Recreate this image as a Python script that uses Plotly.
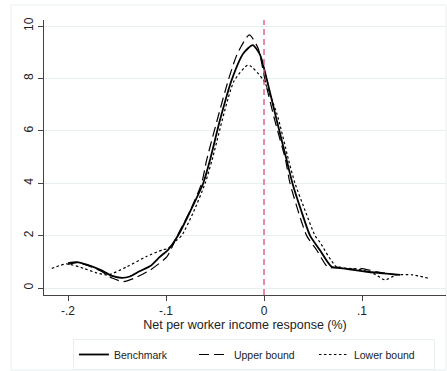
import plotly.graph_objects as go

# Benchmark
bench_x = [-0.200, -0.191, -0.180, -0.167, -0.155, -0.145, -0.137, -0.127, -0.116, -0.106,
           -0.098, -0.087, -0.075, -0.062, -0.055, -0.045, -0.033, -0.021, -0.0115, -0.004,
           0.003, 0.012, 0.023, 0.029, 0.038, 0.047, 0.057, 0.069, 0.081, 0.093, 0.105,
           0.122, 0.139]
bench_y = [0.95, 0.99, 0.88, 0.69, 0.46, 0.39, 0.44, 0.64, 0.84, 1.20,
           1.45, 2.05, 2.95, 4.00, 4.90, 6.40, 7.94, 8.96, 9.27, 8.90,
           7.94, 6.55, 4.90, 4.00, 2.95, 2.00, 1.45, 0.81, 0.75, 0.68, 0.62,
           0.56, 0.50]

# Upper bound
upper_x = [-0.200, -0.191, -0.180, -0.167, -0.155, -0.1436, -0.130, -0.116, -0.099, -0.089,
           -0.076, -0.0636, -0.0585, -0.0364, -0.027, -0.015, -0.006, 0.001, 0.011, 0.022,
           0.0265, 0.0435, 0.0537, 0.0656, 0.0776, 0.088, 0.098, 0.115, 0.135]
upper_y = [0.90, 0.97, 0.86, 0.66, 0.38, 0.24, 0.41, 0.69, 1.20, 1.96,
           2.90, 4.00, 4.89, 7.94, 8.96, 9.66, 9.15, 7.94, 6.40, 4.89,
           4.00, 2.00, 1.45, 0.78, 0.80, 0.72, 0.75, 0.62, 0.50]

# Lower bound
lower_x = [-0.2166, -0.2015, -0.184, -0.171, -0.159, -0.140, -0.120, -0.104, -0.098, -0.089,
           -0.084, -0.072, -0.060, -0.053, -0.0306, -0.016, -0.0007, 0.013, 0.025, 0.0316,
           0.042, 0.052, 0.057, 0.074, 0.0946, 0.1115, 0.1235, 0.135, 0.152, 0.168]
lower_y = [0.75, 0.92, 0.75, 0.58, 0.50, 0.81, 1.20, 1.45, 1.51, 1.83,
           2.00, 2.90, 4.00, 4.89, 7.90, 8.51, 7.94, 6.67, 4.89, 4.00,
           2.95, 2.00, 1.75, 0.81, 0.73, 0.56, 0.31, 0.50, 0.50, 0.37]

x_ticks = [-0.2, -0.1, 0, 0.1]
x_tick_labels = ["-.2", "-.1", "0", ".1"]
y_ticks = [0, 2, 4, 6, 8, 10]
y_tick_labels = ["0", "2", "4", "6", "8", "10"]

FONT = "Liberation Sans, Arial, sans-serif"
fig = go.Figure()
fig.add_trace(go.Scatter(x=bench_x, y=bench_y, mode="lines", name="Benchmark",
                         line=dict(color="black", width=1.8, shape="spline", smoothing=0.6)))
fig.add_trace(go.Scatter(x=upper_x, y=upper_y, mode="lines", name="Upper bound",
                         line=dict(color="black", width=1.2, dash="10px,5px", shape="spline", smoothing=0.6)))
fig.add_trace(go.Scatter(x=lower_x, y=lower_y, mode="lines", name="Lower bound",
                         line=dict(color="black", width=1.2, dash="2.5px,2.5px", shape="spline", smoothing=0.6)))

fig.add_shape(type="line", xref="x", yref="paper", x0=0, x1=0, y0=0, y1=1,
              line=dict(color="#dc4f73", width=1.3, dash="6px,4px"))
# outer graph-region frame
fig.add_shape(type="rect", xref="paper", yref="paper", x0=-0.082, x1=1.0, y0=-0.273, y1=1.0545,
              line=dict(color="#e8eff1", width=1), layer="below")

fig.update_layout(
    width=447, height=371,
    margin=dict(l=44, r=1, t=20, b=76, autoexpand=False),
    paper_bgcolor="white", plot_bgcolor="white",
    font=dict(family=FONT, color="#222", size=12),
    showlegend=True,
    legend=dict(orientation="h", x=0.072, y=-0.16, xanchor="left", yanchor="top",
                bordercolor="#e8eff1", borderwidth=1, font=dict(size=10.5),
                entrywidth=75, entrywidthmode="pixels", bgcolor="white"),
    xaxis=dict(range=[-0.2245, 0.1857], tickvals=x_ticks, ticktext=x_tick_labels,
               showgrid=False, zeroline=False, showline=True, linecolor="#444", linewidth=1,
               ticks="outside", ticklen=5, tickcolor="#444", automargin=False,
               title=dict(text="Net per worker income response (%)", font=dict(size=12.5), standoff=0),
               tickfont=dict(size=12)),
    yaxis=dict(range=[-0.267, 10.23], tickvals=y_ticks, ticktext=y_tick_labels,
               showgrid=True, gridcolor="#e8eff1", gridwidth=1, zeroline=False,
               showline=True, linecolor="#444", linewidth=1, automargin=False,
               ticks="outside", ticklen=5, tickcolor="#444", tickangle=-90,
               tickfont=dict(size=12)),
)

fig.write_html("out.html")
